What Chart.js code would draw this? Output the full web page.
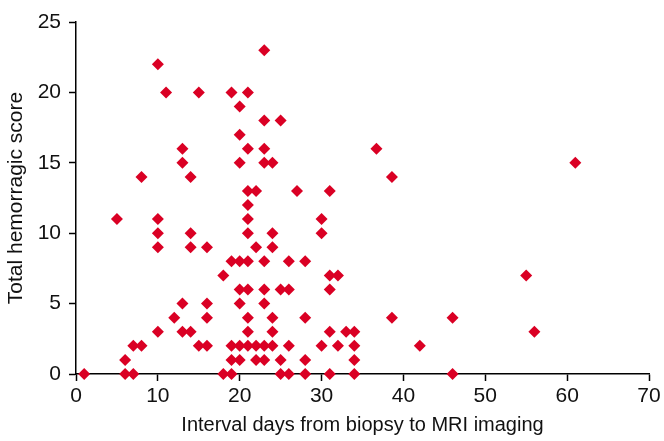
<!DOCTYPE html>
<html lang="en">
<head>
  <meta charset="UTF-8">
  <title>Hemorragic score vs interval</title>
  <style>
    body { margin: 0; padding: 0; background: #fff; }
    .chart-container { position: relative; width: 664px; height: 441px; }
  </style>
  <script src="https://cdn.jsdelivr.net/npm/chart.js"></script>
</head>
<body>
  <div class="chart-container">
    <canvas id="scatterChart" width="664" height="441"></canvas>
  </div>

  <script>
    // interval days (x) and total hemorragic score (y)
    const intervalDays = [
      1, 5, 6, 6, 7, 7, 8, 8,
      10, 10, 10, 10, 10, 11, 12,
      13, 13, 13, 13, 14, 14, 14, 14, 15, 15,
      16, 16, 16, 16, 18, 18,
      19, 19, 19, 19, 19,
      20, 20, 20, 20, 20, 20, 20, 20,
      21, 21, 21, 21, 21, 21, 21, 21, 21, 21, 21,
      22, 22, 22, 22,
      23, 23, 23, 23, 23, 23, 23, 23, 23,
      24, 24, 24, 24, 24, 24,
      25, 25, 25, 25, 26, 26, 26, 26, 27,
      28, 28, 28, 28, 30, 30, 30,
      31, 31, 31, 31, 31, 32, 32, 33,
      34, 34, 34, 34,
      36.7, 38.6, 38.6, 42, 46, 46, 55, 56, 61
    ];
    const hemorragicScore = [
      0, 11, 1, 0, 2, 0, 14, 2,
      22, 11, 10, 9, 3, 20, 4,
      16, 15, 5, 3, 14, 10, 9, 3, 20, 2,
      9, 5, 4, 2, 7, 0,
      20, 8, 2, 1, 0,
      19, 17, 15, 8, 6, 5, 2, 1,
      20, 16, 13, 12, 11, 10, 8, 6, 4, 3, 2,
      13, 9, 2, 1,
      23, 18, 16, 15, 8, 6, 5, 2, 1,
      15, 10, 9, 4, 3, 2,
      18, 6, 1, 0, 8, 6, 2, 0, 13,
      8, 4, 1, 0, 11, 10, 2,
      13, 7, 6, 3, 0, 7, 2, 3,
      3, 2, 1, 0,
      16, 14, 4, 2, 4, 0, 7, 3, 15
    ];
    const xTicks = [0, 10, 20, 30, 40, 50, 60, 70];
    const yTicks = [0, 5, 10, 15, 20, 25];

    const points = intervalDays.map((d, i) => ({ x: d, y: hemorragicScore[i] }));
    const fontFamily = 'Arial, "Liberation Sans", sans-serif';

    const ctx = document.getElementById('scatterChart').getContext('2d');
    new Chart(ctx, {
      type: 'scatter',
      data: {
        datasets: [{
          data: points,
          pointStyle: 'rectRot',
          pointRadius: 6,
          pointBorderWidth: 0,
          backgroundColor: 'rgb(218, 0, 36)',
          borderColor: 'rgb(218, 0, 36)'
        }]
      },
      options: {
        responsive: false,
        animation: false,
        clip: false,
        layout: { padding: { top: 22, right: 15, left: 0, bottom: 0 } },
        plugins: { legend: { display: false }, tooltip: { enabled: false } },
        scales: {
          x: {
            type: 'linear',
            min: xTicks[0],
            max: xTicks[xTicks.length - 1],
            afterBuildTicks: (s) => { s.ticks = xTicks.map(v => ({ value: v })); },
            afterFit: (s) => { s.height = 67; },
            border: { color: '#000', width: 1.5 },
            grid: { drawOnChartArea: false, tickLength: 7, color: '#000', tickWidth: 1.5 },
            ticks: { color: '#111', padding: 3, maxRotation: 0, font: { family: fontFamily, size: 21 } },
            title: {
              display: true,
              text: 'Interval days from biopsy to MRI imaging',
              color: '#111',
              padding: { top: 3 },
              font: { family: fontFamily, size: 20 }
            }
          },
          y: {
            type: 'linear',
            min: yTicks[0],
            max: yTicks[yTicks.length - 1],
            afterBuildTicks: (s) => { s.ticks = yTicks.map(v => ({ value: v })); },
            afterFit: (s) => { s.width = 76; },
            border: { color: '#000', width: 1.5 },
            grid: { drawOnChartArea: false, tickLength: 7, color: '#000', tickWidth: 1.5 },
            ticks: { color: '#111', padding: 8, font: { family: fontFamily, size: 21 } },
            title: {
              display: true,
              text: 'Total hemorragic score',
              color: '#111',
              padding: { bottom: 2 },
              font: { family: fontFamily, size: 21 }
            }
          }
        }
      }
    });
  </script>
</body>
</html>
